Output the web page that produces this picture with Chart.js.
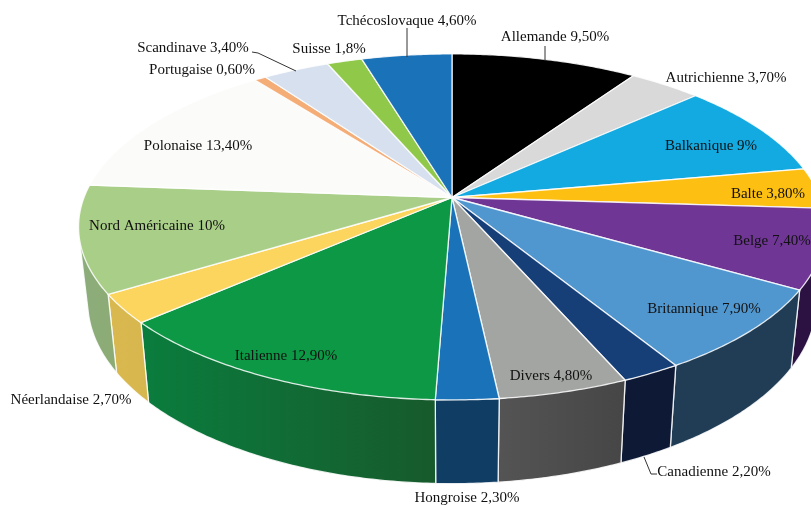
<!DOCTYPE html>
<html><head><meta charset="utf-8">
<style>html,body{margin:0;padding:0;background:#fff}canvas{display:block}</style>
<script src="https://cdn.jsdelivr.net/npm/chart.js@4"></script></head>
<body><canvas id="c" width="811" height="506"></canvas>
<script>
const categories=["Allemande","Autrichienne","Balkanique","Balte","Belge","Britannique","Canadienne","Divers","Hongroise","Italienne","Néerlandaise","Nord Américaine","Polonaise","Portugaise","Scandinave","Suisse","Tchécoslovaque"];
const shares=[9.5,3.7,9,3.8,7.4,7.9,2.2,4.8,2.3,12.9,2.7,10,13.4,0.6,3.4,1.8,4.6];
const shareLabels=["9,50%","3,70%","9%","3,80%","7,40%","7,90%","2,20%","4,80%","2,30%","12,90%","2,70%","10%","13,40%","0,60%","3,40%","1,8%","4,60%"];
const topColors=["#000000","#d9d9d9","#13a9e1","#fdbf12","#703696","#5097d0","#163f78","#a2a5a2","#1a72b8","#0d9846","#fcd55e","#a9ce87","#fbfbf9","#f5ad78","#d7e0ef","#90c84a","#1a72b8"];
const wallLeft=["#000","#999","#0a6a90","#9a7508","#2b1242","#203d55","#0e1a35","#545454","#0f3d63","#0a7d3d","#d9b94f","#8cad7c","#ccc","#b07040","#99a","#5a8030","#0f3d63"];
const wallRight=["#000","#999","#0a6a90","#9a7508","#2b1242","#203d55","#0e1a35","#464646","#0f3d63","#175a2c","#d6b64e","#8cab74","#ccc","#b07040","#99a","#5a8030","#0f3d63"];
const labelCenters=[[555,37],[726,78],[711,146],[768,194],[772,241],[704,309],[714,472],[551,376],[467,498],[286,356],[71,400],[157,226],[198,146],[202,70],[193,48],[329,49],[407,21]];
const leaders=[[[407,28],[407,57]],[[252,52],[258,53],[296,71]],[[644,457],[651,474],[657,474]],[[545,46],[545,61]]];
const cx=452,cy=197.5,A=368,B=168,K=0.17,A2=359,B2=176.5,cy2=271;
const rim=(th,a,b,y0)=>{const w=1+K*Math.cos(th);return [cx+a*Math.sin(th)/w,y0-b*Math.cos(th)/w];};
const arcPts=(t1,t2,a,b,y0)=>{const n=Math.max(2,Math.ceil((t2-t1)/0.01)),p=[];for(let i=0;i<=n;i++)p.push(rim(t1+(t2-t1)*i/n,a,b,y0));return p;};
const trace=(ctx,pts)=>{ctx.beginPath();pts.forEach((q,i)=>i?ctx.lineTo(q[0],q[1]):ctx.moveTo(q[0],q[1]));ctx.closePath();};
const hull=pts=>{
  const s=pts.slice().sort((a,b)=>a[0]-b[0]||a[1]-b[1]);
  const cross=(o,a,b)=>(a[0]-o[0])*(b[1]-o[1])-(a[1]-o[1])*(b[0]-o[0]);
  const half=list=>{const h=[];list.forEach(p=>{while(h.length>1&&cross(h[h.length-2],h[h.length-1],p)<=0)h.pop();h.push(p);});h.pop();return h;};
  return half(s).concat(half(s.slice().reverse()));
};
const pie3d={id:'pie3d',
 beforeDatasetDraw(chart){
  const ctx=chart.ctx,arcs=chart.getDatasetMeta(0).data;
  ctx.save();ctx.lineJoin='round';
  arcs.forEach((e,i)=>{
    const t1=e.startAngle+Math.PI/2,t2=e.endAngle+Math.PI/2;
    if(Math.cos((t1+t2)/2)>0)return;
    const pts=arcPts(t1,t2,A,B,cy).concat(arcPts(t1,t2,A2,B2,cy2).reverse());
    const xs=pts.map(p=>p[0]);
    const g=ctx.createLinearGradient(Math.min(...xs),0,Math.max(...xs),0);
    g.addColorStop(0,wallLeft[i]);g.addColorStop(1,wallRight[i]);
    trace(ctx,hull(pts));ctx.fillStyle=g;ctx.fill();
    ctx.strokeStyle='rgba(255,255,255,.85)';ctx.lineWidth=1.3;ctx.stroke();
  });
  arcs.forEach((e,i)=>{
    const t1=e.startAngle+Math.PI/2,t2=e.endAngle+Math.PI/2;
    trace(ctx,[[cx,cy]].concat(arcPts(t1,t2,A,B,cy)));
    ctx.fillStyle=topColors[i];ctx.fill();
    ctx.strokeStyle='rgba(255,255,255,.85)';ctx.lineWidth=1.3;ctx.stroke();
  });
  ctx.strokeStyle='#333';ctx.lineWidth=1;
  leaders.forEach(l=>{ctx.beginPath();l.forEach((q,i)=>i?ctx.lineTo(q[0],q[1]):ctx.moveTo(q[0],q[1]));ctx.stroke();});
  ctx.fillStyle='#111';ctx.font='15px "Liberation Serif"';ctx.textAlign='center';ctx.textBaseline='middle';
  categories.forEach((c,i)=>ctx.fillText(c+' '+shareLabels[i],labelCenters[i][0],labelCenters[i][1]));
  ctx.restore();
  return false;
 }};
new Chart(document.getElementById('c'),{type:'pie',
 data:{labels:categories,datasets:[{data:shares,backgroundColor:topColors,borderWidth:0}]},
 options:{responsive:false,animation:false,plugins:{legend:{display:false},tooltip:{enabled:false}}},
 plugins:[pie3d]});
</script></body></html>
